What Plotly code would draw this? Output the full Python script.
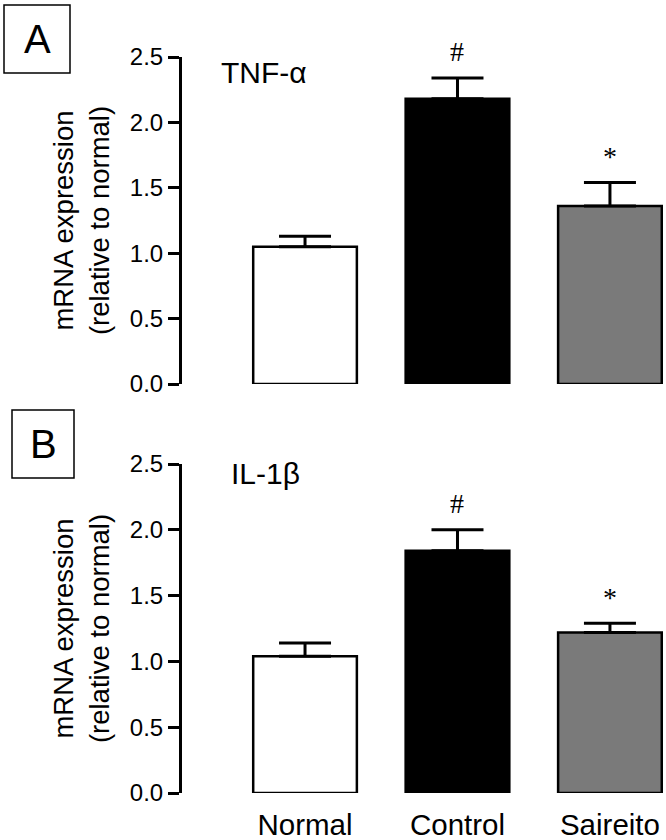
import plotly.graph_objects as go

groups = ["Normal", "Control", "Saireito"]
tnf_mean = [1.05, 2.18, 1.36]
tnf_err = [0.08, 0.16, 0.18]
il1_mean = [1.04, 1.84, 1.22]
il1_err = [0.10, 0.16, 0.07]
tnf_marks = ["", "#", "*"]
il1_marks = ["", "#", "*"]
bar_colors = ["#ffffff", "#000000", "#7a7a7a"]
y_ticks = [0.0, 0.5, 1.0, 1.5, 2.0, 2.5]
y_ticktext = ["0.0", "0.5", "1.0", "1.5", "2.0", "2.5"]

W, H = 666, 840
FONT = "Liberation Sans, Arial, sans-serif"

fig = go.Figure()
xs = [0, 1, 2]
for means, errs, xa, ya in [(tnf_mean, tnf_err, "x", "y"), (il1_mean, il1_err, "x2", "y2")]:
    fig.add_trace(go.Bar(
        x=xs, y=means, width=0.68,
        marker=dict(color=bar_colors, line=dict(color="black", width=2.5)),
        error_y=dict(type="data", array=errs, symmetric=False,
                     arrayminus=[0, 0, 0], color="black", thickness=3, width=26),
        xaxis=xa, yaxis=ya, showlegend=False, cliponaxis=False,
    ))

ydomA = [1 - 384 / H, 1 - 57 / H]
ydomB = [1 - 793 / H, 1 - 464 / H]
xdom = [182 / W, 663 / W]
xrange = [-0.807, 2.348]

yax = dict(range=[0, 2.5], tickvals=y_ticks, ticktext=y_ticktext, automargin=False,
           showline=True, linecolor="black", linewidth=3, ticks="outside",
           ticklen=11, tickwidth=3, tickcolor="black", showgrid=False,
           zeroline=False, tickfont=dict(family=FONT, size=24, color="black"),
           title=dict(text="mRNA expression<br>(relative to normal)",
                      font=dict(family=FONT, size=27.5, color="black"), standoff=13))

fig.update_layout(
    width=W, height=H, margin=dict(l=0, r=0, t=0, b=0, autoexpand=False),
    plot_bgcolor="white", paper_bgcolor="white",
    xaxis=dict(domain=xdom, range=xrange, showline=False, showgrid=False, automargin=False,
               zeroline=False, showticklabels=False, ticks="", anchor="y"),
    yaxis=dict(domain=ydomA, anchor="x", **yax),
    xaxis2=dict(domain=xdom, range=xrange, showline=False, showgrid=False, automargin=False,
                zeroline=False, tickvals=xs, ticktext=groups, ticks="", ticklabelstandoff=11,
                tickfont=dict(family=FONT, size=29.5, color="black"), anchor="y2"),
    yaxis2=dict(domain=ydomB, anchor="x2", **yax),
)

# significance marks above error bars
for means, errs, marks, xr, yr in [(tnf_mean, tnf_err, tnf_marks, "x", "y"),
                                   (il1_mean, il1_err, il1_marks, "x2", "y2")]:
    for i, m in enumerate(marks):
        if m:
            fig.add_annotation(x=xs[i], y=means[i] + errs[i], xref=xr, yref=yr, text=m,
                               showarrow=False, yanchor="middle", yshift=26,
                               font=dict(family="Liberation Serif, serif", size=28, color="black"))

fig.add_annotation(x=219 / W, y=1 - 72 / H, xref="paper", yref="paper", text="TNF-α",
                   showarrow=False, xanchor="left", yanchor="middle",
                   font=dict(family=FONT, size=30, color="black"))
fig.add_annotation(x=229 / W, y=1 - 473 / H, xref="paper", yref="paper", text="IL-1β",
                   showarrow=False, xanchor="left", yanchor="middle",
                   font=dict(family=FONT, size=30, color="black"))

# panel letter boxes
for (x0, y0, x1, y1, letter) in [(4, 5, 70, 73, "A"), (12, 410, 74, 478, "B")]:
    fig.add_shape(type="rect", xref="paper", yref="paper",
                  x0=x0 / W, x1=x1 / W, y0=1 - y1 / H, y1=1 - y0 / H,
                  line=dict(color="black", width=1.5))
    fig.add_annotation(x=(x0 + x1) / 2 / W, y=1 - (y0 + y1) / 2 / H, xref="paper", yref="paper",
                       text=letter, showarrow=False, xanchor="center", yanchor="middle",
                       font=dict(family=FONT, size=40, color="black"))

fig.write_html("out.html", config={"displayModeBar": False},
               post_script="document.body.style.margin='0';")
